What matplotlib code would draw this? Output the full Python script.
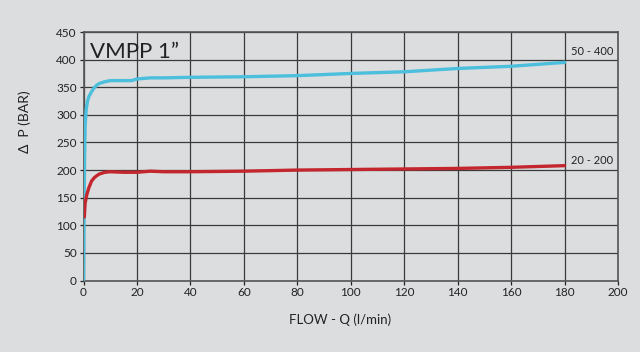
import matplotlib
matplotlib.use("Agg")
import matplotlib.pyplot as plt

# Data
flow_hi = [0, 0.2, 0.4, 0.6, 1.0, 1.5, 2.0, 3.0, 4.0, 5.0, 6.0, 8.0, 10, 14, 18, 20, 25, 30, 40, 60, 80, 100, 120, 140, 160, 180]
dp_hi   = [0, 120, 220, 280, 310, 325, 333, 342, 349, 354, 357, 360, 362, 362, 362, 365, 367, 367, 368, 369, 371, 375, 378, 384, 388, 395]

flow_lo = [0.3, 0.6, 1.2, 2.0, 3.0, 4.0, 5.0, 6.0, 8.0, 10, 15, 20, 25, 30, 40, 60, 80, 100, 120, 140, 160, 180]
dp_lo   = [115, 140, 155, 168, 180, 186, 190, 193, 196, 197, 196, 196, 198, 197, 197, 198, 200, 201, 202, 203, 205, 208]

x_ticks = list(range(0, 201, 20))
y_ticks = list(range(0, 451, 50))
label_hi = "50 - 400"
label_lo = "20 - 200"
title = "VMPP 1\u201d"

bg = "#dcdddf"
txt = "#222222"
plt.rcParams['font.family'] = ['Lato', 'DejaVu Sans']

fig = plt.figure(figsize=(6.4, 3.52), dpi=100, facecolor=bg)
ax = fig.add_axes([0.1305, 0.2031, 0.8352, 0.7059], facecolor=bg)

ax.plot(flow_hi, dp_hi, color="#4cbfdc", lw=2.4, solid_capstyle='round', zorder=3)
ax.plot(flow_lo, dp_lo, color="#c4262e", lw=2.4, solid_capstyle='round', zorder=3)

ax.set_xlim(0, 200)
ax.set_ylim(0, 450)
ax.set_xticks(x_ticks)
ax.set_yticks(y_ticks)
ax.grid(True, color="#3a3a3a", lw=0.9, zorder=1)
for s in ax.spines.values():
    s.set_color("#555555")
    s.set_linewidth(1.2)
ax.tick_params(axis='both', colors=txt, labelsize=8.5, length=3, width=0.9, pad=2)

ax.text(182.5, 415, label_hi, fontsize=8, color=txt, ha='left', va='center')
ax.text(182.5, 218, label_lo, fontsize=8, color=txt, ha='left', va='center')
ax.text(2.5, 395, title, fontsize=16, color=txt, ha='left', va='bottom')

fig.text(340 / 640, 1 - 320 / 352, "FLOW - Q (l/min)", fontsize=9.5, color=txt,
         ha='center', va='center')
fig.text(25 / 640, 1 - 122 / 352, "\u0394  P (BAR)", fontsize=10, color=txt,
         ha='center', va='center', rotation=90)

fig.savefig("out.png", dpi=100, facecolor=bg)
